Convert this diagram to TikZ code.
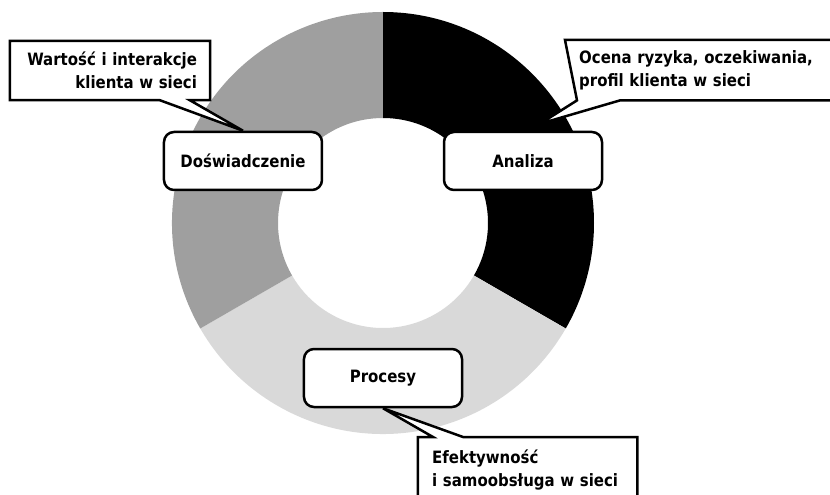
\documentclass[tikz,border=0pt]{standalone}
\usepackage{fontspec}
\setmainfont{DejaVu Sans}[FakeStretch=0.88]
\usetikzlibrary{calc,backgrounds}
\definecolor{segciemny}{gray}{0}
\definecolor{segszary}{HTML}{9F9F9F}
\definecolor{segjasny}{HTML}{D9D9D9}
\tikzset{
  etap/.style={draw=black, fill=white, line width=2.5pt, rounded corners=10pt,
    minimum width=158pt, minimum height=58pt,
    font=\bfseries\fontsize{17pt}{23pt}\selectfont},
  opis/.style={inner xsep=13pt, font=\bfseries\fontsize{17pt}{23pt}\selectfont},
  dymek/.style={draw=black, fill=white, line width=2.5pt}
}

\begin{document}
\begin{tikzpicture}[x=1pt,y=1pt]
  %%%%% START %%%%%

  \useasboundingbox (-383,-272) rectangle (447,223);
  \clip (-383,-272) rectangle (447,223);

  \node[etap] (dosw) at (-140,62) {Doświadczenie};
  \node[etap] (analiza) at (140,62) {Analiza};
  \node[etap] (procesy) at (0,-155) {Procesy};

  \node[opis, align=right, text width=174pt, minimum height=59pt] (wartosc) at (-273,152.5) {Wartość i interakcje\\klienta w sieci};
  \node[opis, align=left, text width=270pt, minimum height=60pt, inner xsep=14pt, anchor=north west] (ocena) at (182,183) {Ocena ryzyka, oczekiwania,\\profil klienta w sieci};
  \node[opis, align=left, text width=191pt, inner xsep=14pt, inner ysep=13pt, anchor=north west] (efekt) at (35,-214) {Efektywność\\i samoobsługa w sieci};

  \begin{pgfonlayer}{background}
    \clip (-383,-272) rectangle (447,223);

    % pierscien
    \foreach \poc/\kon/\kolor in {90/-30/segciemny, -30/-150/segjasny, 210/90/segszary}
      \fill[\kolor] (\poc:211) arc[start angle=\poc, end angle=\kon, radius=211]
        -- (\kon:105) arc[start angle=\kon, end angle=\poc, radius=105] -- cycle;

    % dymki
    \draw[dymek] (wartosc.north west) -- (wartosc.north east) -- (wartosc.south east)
      -- ($(wartosc.south west)+(180,0)$) -- (dosw.north) -- ($(wartosc.south west)+(150,0)$)
      -- (wartosc.south west) -- cycle;
    \draw[dymek] (ocena.north west) -- (ocena.north east) -- (ocena.south east)
      -- ($(ocena.south west)+(55,0)$) -- ($(analiza.north)+(17,7)$) -- ($(ocena.south west)+(12,0)$)
      -- cycle;
    \draw[dymek] ($(efekt.south west)+(0,-40)$) -- (efekt.north west) -- ($(efekt.north west)+(15,0)$)
      -- (procesy.south) -- ($(efekt.north west)+(45,0)$) -- (efekt.north east)
      -- ($(efekt.south east)+(0,-40)$) -- cycle;
  \end{pgfonlayer}

  %%%%% END %%%%%
\end{tikzpicture}
\end{document}
